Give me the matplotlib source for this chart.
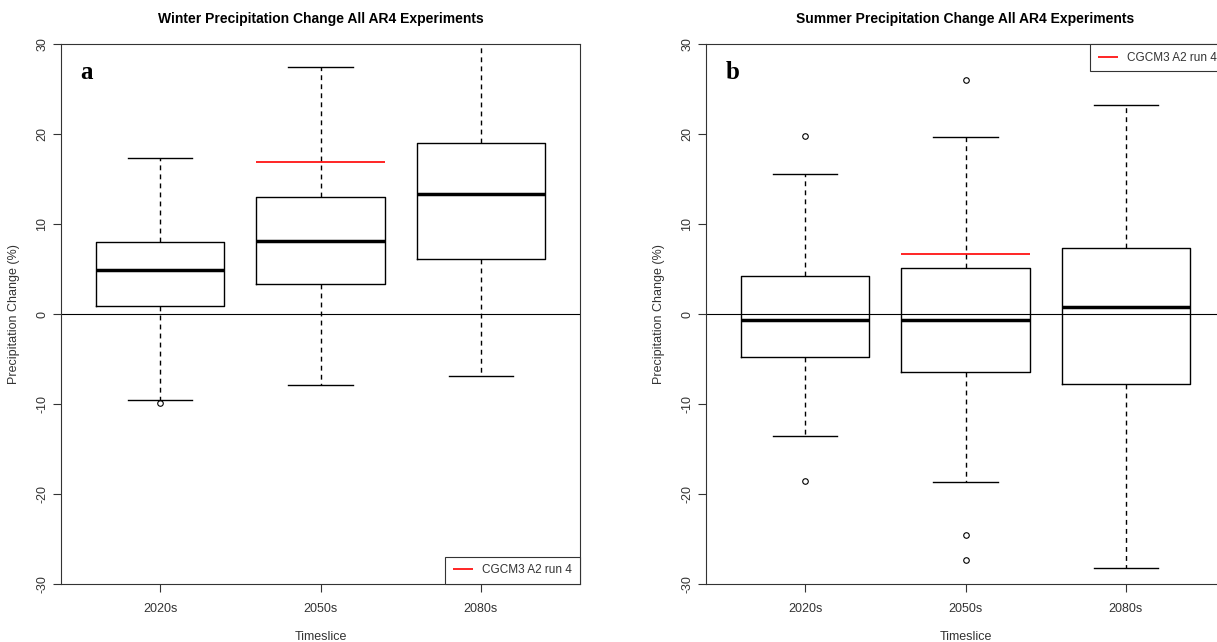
import numpy as np
import matplotlib.pyplot as plt

# Data (precipitation change, %)
timeslices = ["2020s", "2050s", "2080s"]

winter_whislo = [-9.5, -7.9, -6.9]
winter_q1 = [0.9, 3.3, 6.1]
winter_med = [4.9, 8.1, 13.3]
winter_q3 = [8.0, 13.0, 19.0]
winter_whishi = [17.3, 27.4, 31.5]
winter_fliers = [[-9.9], [], []]
winter_cgcm3 = 16.9  # CGCM3 A2 run 4, 2050s

summer_whislo = [-13.6, -18.7, -28.2]
summer_q1 = [-4.8, -6.4, -7.8]
summer_med = [-0.7, -0.7, 0.8]
summer_q3 = [4.2, 5.1, 7.3]
summer_whishi = [15.6, 19.7, 23.2]
summer_fliers = [[19.8, -18.5], [26.0, -24.5, -27.3], []]
summer_cgcm3 = 6.7

plt.rcParams['font.family'] = ['Liberation Sans', 'DejaVu Sans']
plt.rcParams['axes.unicode_minus'] = False

W, H = 1217, 642
fig = plt.figure(figsize=(W / 100, H / 100), dpi=100)

def make_stats(lo, q1, med, q3, hi, fl):
    stats = []
    for i in range(len(lo)):
        stats.append(dict(whislo=lo[i], q1=q1[i], med=med[i], q3=q3[i],
                          whishi=hi[i], fliers=fl[i]))
    return stats

def panel(ax, stats, red, title, letter, legend_loc):
    pos = np.arange(1, len(stats) + 1)
    ax.bxp(stats, positions=pos, widths=0.8, showfliers=True,
           boxprops=dict(color='black', linewidth=1),
           whiskerprops=dict(color='black', linewidth=1, linestyle=(0, (3.5, 3))),
           capprops=dict(color='black', linewidth=1),
           medianprops=dict(color='black', linewidth=2.5),
           flierprops=dict(marker='o', markersize=4, markerfacecolor='none',
                           markeredgecolor='black', markeredgewidth=0.8),
           capwidths=0.4)
    ax.axhline(0, color='black', linewidth=0.8)
    ax.hlines(red, pos[1] - 0.4, pos[1] + 0.4, color='red', linewidth=1.2,
              label='CGCM3 A2 run 4')
    ax.set_xlim(0.38, 3.62)
    ax.set_ylim(-30, 30)
    ax.set_yticks([-30, -20, -10, 0, 10, 20, 30])
    ax.set_xticks(pos)
    ax.set_xticklabels(timeslices)
    for lab in ax.get_yticklabels():
        lab.set_rotation(90)
        lab.set_va('center')
    ax.tick_params(direction='out', length=6, width=0.8, labelsize=9,
                   colors='#333333', labelcolor='#333333')
    ax.tick_params(axis='y', pad=3)
    ax.tick_params(axis='x', pad=8)
    for s in ax.spines.values():
        s.set_linewidth(0.8)
        s.set_color('#333333')
    ax.set_title(title, fontsize=10, fontweight='bold', pad=15)
    ax.set_ylabel('Precipitation Change (%)', fontsize=9, color='#333333', labelpad=12)
    ax.set_xlabel('Timeslice', fontsize=9, color='#333333', labelpad=11)
    ax.text(0.038, 0.948, letter, transform=ax.transAxes, fontsize=18,
            fontweight='bold', family='Liberation Serif', va='center', ha='left')
    leg = ax.legend(loc=legend_loc, borderaxespad=0, fancybox=False,
                    framealpha=1, edgecolor='#333333', fontsize=8.5,
                    handlelength=1.7, borderpad=0.65, handletextpad=0.8)
    leg.get_frame().set_linewidth(0.8)
    for t in leg.get_texts():
        t.set_color('#333333')

left_w = 519 / W
ax1 = fig.add_axes([61 / W, 1 - 584 / H, left_w, 540 / H])
ax2 = fig.add_axes([706 / W, 1 - 584 / H, left_w, 540 / H])

panel(ax1, make_stats(winter_whislo, winter_q1, winter_med, winter_q3,
                      winter_whishi, winter_fliers),
      winter_cgcm3, 'Winter Precipitation Change All AR4 Experiments', 'a',
      'lower right')
panel(ax2, make_stats(summer_whislo, summer_q1, summer_med, summer_q3,
                      summer_whishi, summer_fliers),
      summer_cgcm3, 'Summer Precipitation Change All AR4 Experiments', 'b',
      'upper right')

fig.savefig('out.png', dpi=100)
